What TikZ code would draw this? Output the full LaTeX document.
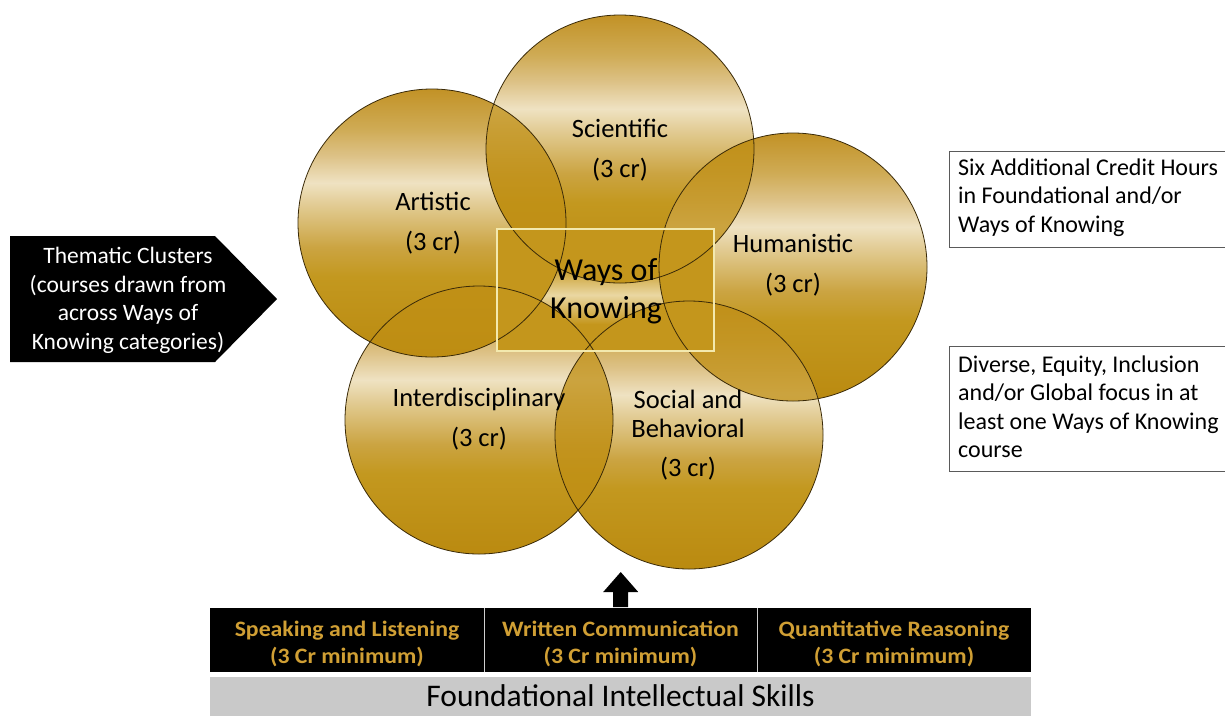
\documentclass[tikz,border=0pt]{standalone}
\usepackage{fontspec}
\setmainfont{Carlito}
\usetikzlibrary{calc}
\definecolor{gb}{HTML}{BA8A10}
\definecolor{gseventy}{HTML}{C3981F}
\definecolor{gfiftynine}{HTML}{CBA442}
\definecolor{gfortythree}{HTML}{E2CC94}
\definecolor{gthirtyfive}{HTML}{EFE2C2}
\definecolor{gtwentyfive}{HTML}{DDC287}
\definecolor{gfifteen}{HTML}{CFAB55}
\definecolor{gtop}{HTML}{C29226}
\definecolor{rd}{HTML}{C4961C}
\definecolor{rl}{HTML}{EAD7A2}
\definecolor{lensc}{HTML}{C08F14}
\definecolor{outl}{HTML}{3A2A08}
\definecolor{rectborder}{HTML}{F3E9AE}
\definecolor{boxgray}{HTML}{5A5A5A}
\definecolor{goldtext}{HTML}{D09F34}
\definecolor{barGray}{HTML}{C9C9C9}
\definecolor{divider}{HTML}{CFCFCF}
\pgfdeclareverticalshading{goldshade}{100bp}{color(0bp)=(gb); color(25bp)=(gb); color(40bp)=(gseventy); color(45.5bp)=(gfiftynine); color(53.5bp)=(gfortythree); color(57.5bp)=(gthirtyfive); color(62.5bp)=(gtwentyfive); color(67.5bp)=(gfifteen); color(75bp)=(gtop); color(100bp)=(gtop)}
\pgfdeclareverticalshading{rectshade}{100bp}{color(0bp)=(rd); color(25bp)=(rd); color(36bp)=(rd); color(48bp)=(rl); color(60bp)=(rd); color(75bp)=(rd); color(100bp)=(rd)}
\tikzset{
  circtext/.style={font=\fontsize{26.5}{31}\selectfont, anchor=base, inner sep=0pt, text=black},
  woktext/.style={font=\fontsize{32}{38}\selectfont, anchor=base, inner sep=0pt, text=black},
  sidetext/.style={font=\fontsize{24}{28}\selectfont, anchor=base west, inner sep=0pt, text=black},
  themtext/.style={font=\fontsize{23.5}{28}\selectfont, anchor=base, inner sep=0pt, text=white},
  celltext/.style={font=\fontsize{22}{27}\selectfont\bfseries, anchor=base, inner sep=0pt, text=goldtext, xscale=1.08},
  sidebox/.style={draw=boxgray, line width=1pt, anchor=north west, inner sep=0pt},
  cellbox/.style={fill=black, anchor=north west, inner sep=0pt, minimum height=64pt},
  outline/.style={draw=outl, line width=0.8pt},
}
\begin{document}
\begin{tikzpicture}[x=1pt,y=-1pt]
\useasboundingbox (0,0) rectangle (1225,716);
% circle centres
\coordinate (art) at (432,223);
\coordinate (sci) at (620,149);
\coordinate (hum) at (793,267);
\coordinate (int) at (479,420);
\coordinate (soc) at (689,435);
% gradient circles
\foreach \c in {art,sci,hum,int,soc}{
  \shade[shading=goldshade] (\c) circle[radius=134pt];
}
% overlap lenses
\foreach \a/\b in {art/sci,sci/hum,hum/soc,soc/int,int/art}{
  \begin{scope}
    \clip (\a) circle[radius=134pt];
    \shade[shading=goldshade] (\b) circle[radius=134pt];
    \fill[lensc, opacity=0.75] (\b) circle[radius=134pt];
  \end{scope}
}
% Ways of Knowing rectangle interior
\coordinate (wkA) at (497,229);
\coordinate (wkB) at (714,351);
\begin{scope}
  \clip (wkA) rectangle (wkB);
  \shade[shading=rectshade] (wkA) rectangle (wkB);
  \foreach \c in {art,sci,hum,int,soc}{
    \fill[rd] (\c) circle[radius=134pt];
  }
\end{scope}
% outlines
\foreach \c in {art,sci,hum,int,soc}{
  \path[outline] (\c) circle[radius=134pt];
}
\draw[rectborder, line width=1.2pt] (wkA) rectangle (wkB);
% circle labels
\node[circtext] (sciA) at (620,137) {Scientific};
\node[circtext] (sciB) at (620,177) {(3 cr)};
\node[circtext] (artA) at (433,210) {Artistic};
\node[circtext] (artB) at (433,250) {(3 cr)};
\node[circtext] (humA) at (793,252) {Humanistic};
\node[circtext] (humB) at (793,292) {(3 cr)};
\node[circtext] (intA) at (479,406) {Interdisciplinary};
\node[circtext] (intB) at (479,446) {(3 cr)};
\node[circtext] (socA) at (688,408) {Social and};
\node[circtext] (socB) at (688,437) {Behavioral};
\node[circtext] (socC) at (688,476) {(3 cr)};
\node[woktext] (wokA) at (606,280) {Ways of};
\node[woktext] (wokB) at (606,318) {Knowing};
% thematic clusters arrow
\fill[black] (10,236) -- (215,236) -- (277,299) -- (215,362) -- (10,362) -- cycle;
\node[themtext] (thA) at (128,263) {Thematic Clusters};
\node[themtext] (thB) at (128,292) {(courses drawn from};
\node[themtext] (thC) at (128,320.5) {across Ways of};
\node[themtext] (thD) at (128,349) {Knowing categories)};
% right boxes
\node[sidebox, minimum width=275.5pt, minimum height=96pt] (boxA) at (949,150.5) {};
\node[sidetext] (bAa) at (958,175) {Six Additional Credit Hours};
\node[sidetext] (bAb) at (958,203.5) {in Foundational and/or};
\node[sidetext] (bAc) at (958,232) {Ways of Knowing};
\node[sidebox, minimum width=275.5pt, minimum height=125pt] (boxB) at (949,346) {};
\node[sidetext] (bBa) at (958,372) {Diverse, Equity, Inclusion};
\node[sidetext] (bBb) at (958,400.5) {and/or Global focus in at};
\node[sidetext] (bBc) at (958,429) {least one Ways of Knowing};
\node[sidetext] (bBd) at (958,457.5) {course};
% bottom bars
\node[cellbox, minimum width=274pt] (cellA) at (210,608) {};
\node[cellbox, minimum width=273pt] (cellB) at (484,608) {};
\node[cellbox, minimum width=274pt] (cellC) at (757,608) {};
\draw[divider, line width=1pt] (cellB.north west) -- (cellB.south west);
\draw[divider, line width=1pt] (cellC.north west) -- (cellC.south west);
\node[celltext] (cAa) at (347,636) {Speaking and Listening};
\node[celltext] (cAb) at (347,663.5) {(3 Cr minimum)};
\node[celltext] (cBa) at (620.5,636) {Written Communication};
\node[celltext] (cBb) at (620.5,663.5) {(3 Cr minimum)};
\node[celltext] (cCa) at (894,636) {Quantitative Reasoning};
\node[celltext] (cCb) at (894,663.5) {(3 Cr mimimum)};
\node[fill=barGray, anchor=north west, inner sep=0pt, minimum width=821pt, minimum height=39pt] (fis) at (210,677) {};
\node[font=\fontsize{31.5}{37}\selectfont, anchor=base, inner sep=0pt, text=black] (fisT) at (620.5,706) {Foundational Intellectual Skills};
% upward block arrow
\coordinate (ab) at (cellB.north);
\fill[black] ($(ab)+(-7.5,-1)$) -- ($(ab)+(-7.5,-16)$) -- ($(ab)+(-17.5,-16)$) -- ($(ab)+(0,-36)$) -- ($(ab)+(17.5,-16)$) -- ($(ab)+(7.5,-16)$) -- ($(ab)+(7.5,-1)$) -- cycle;
\end{tikzpicture}
\end{document}
